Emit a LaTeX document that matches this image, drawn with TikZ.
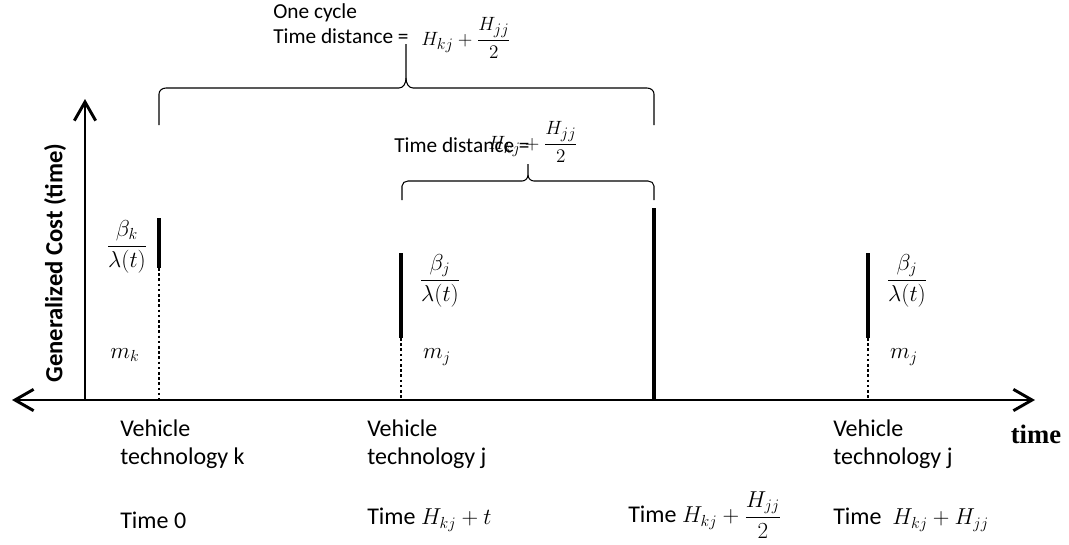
\documentclass[tikz,border=0pt]{standalone}
\usepackage{amsmath}
\usepackage{fontspec}
\setmainfont{Carlito}
\newfontfamily\timefont{Liberation Serif}
\DeclareMathSizes{16}{15.5}{11.5}{9}
\DeclareMathSizes{18}{17}{12.5}{10}
\usetikzlibrary{arrows.meta,positioning}
\tikzset{
  tip/.tip={Straight Barb[length=14pt,width=16pt,line width=2.2pt]},
  axisline/.style={line width=2.2pt},
  solidbar/.style={line width=2.3pt},
  tallbar/.style={line width=2.8pt},
  dotbar/.style={line width=1.9pt, dotted},
  bracepath/.style={line width=0.8pt},
  lbl/.style={inner sep=0pt, anchor=west},
  toptext/.style={font=\fontsize{16}{19}\selectfont},
  lowtext/.style={font=\fontsize{18}{21}\selectfont}
}
\begin{document}
\begin{tikzpicture}[x=0.75pt, y=-0.75pt, lowtext]
  \useasboundingbox (0,0) rectangle (1069,544);
  % axes
  \coordinate (xleft) at (12,400);
  \coordinate (xright) at (1035,400);
  \coordinate (origin) at (85,400);
  \coordinate (ytop) at (85,99);
  \draw[axisline, tip-tip] (xleft) -- (xright);
  \draw[axisline, -tip] (origin) -- (ytop);
  \node[rotate=90, font=\fontsize{18.5}{20}\selectfont\bfseries] (ylabel) at (55,263) {Generalized Cost (time)};
  \node[font=\fontsize{20}{22}\selectfont\timefont\bfseries] (xlabel) at (1036,434) {time};
  % vehicle k
  \coordinate (ktop) at (159,218);
  \coordinate (kmid) at (159,268);
  \coordinate (kbase) at (159,400);
  \draw[solidbar] (ktop) -- (kmid);
  \draw[dotbar] (kmid) -- (kbase);
  \node (kfrac) at (127,247) {$\dfrac{\beta_k}{\lambda(t)}$};
  \node (kmin) at (125,355) {$m_k$};
  % vehicle j, first
  \coordinate (jtop) at (401,253);
  \coordinate (jmid) at (401,338);
  \coordinate (jbase) at (401,400);
  \draw[solidbar] (jtop) -- (jmid);
  \draw[dotbar] (jmid) -- (jbase);
  \node (jfrac) at (440,281) {$\dfrac{\beta_j}{\lambda(t)}$};
  \node (jmin) at (437,357) {$m_j$};
  % half cycle
  \coordinate (htop) at (654,208);
  \coordinate (hbase) at (654,400);
  \draw[tallbar] (htop) -- (hbase);
  % vehicle j, second
  \coordinate (jjtop) at (868,253);
  \coordinate (jjmid) at (868,338);
  \coordinate (jjbase) at (868,400);
  \draw[solidbar] (jjtop) -- (jjmid);
  \draw[dotbar] (jjmid) -- (jjbase);
  \node (jjfrac) at (907,281) {$\dfrac{\beta_j}{\lambda(t)}$};
  \node (jjmin) at (904,357) {$m_j$};
  % one cycle brace
  \coordinate (bigtip) at (406,44);
  \draw[bracepath] (159,125) -- (159,94) to[out=90,in=180] (166,88) -- (399,88) to[out=0,in=-90] (406,78) -- (bigtip);
  \draw[bracepath] (406,78) to[out=-90,in=180] (413,88) -- (647,88) to[out=0,in=90] (654,94) -- (654,125);
  \node[lbl, toptext] (cycle) at (273,13) {One cycle};
  \node[lbl, toptext] (bigdist) at (273,36) {Time distance =};
  \node[lbl, toptext] (bigval) at (421,38) {$H_{kj}+\dfrac{H_{jj}}{2}$};
  % half cycle brace
  \coordinate (smalltip) at (528,164);
  \draw[bracepath] (402,200) -- (402,186) to[out=90,in=180] (408,181) -- (522,181) to[out=0,in=-90] (528,175) -- (smalltip);
  \draw[bracepath] (528,175) to[out=-90,in=180] (534,181) -- (648,181) to[out=0,in=90] (654,186) -- (654,200);
  \node[lbl, toptext] (smalldist) at (394,145) {Time distance =};
  \node[lbl, toptext] (smallval) at (488,142) {$H_{kj}+\dfrac{H_{jj}}{2}$};
  % labels under the axis
  \node[lbl, align=left] (vk) at (120,444) {Vehicle\\technology k};
  \node[lbl, align=left] (vj) at (367,444) {Vehicle\\technology j};
  \node[lbl, align=left] (vjj) at (833,444) {Vehicle\\technology j};
  \node[lbl] (t0) at (120,520) {Time 0};
  \node[lbl] (t1) at (367,520) {Time $H_{kj}+t$};
  \node[lbl] (t2) at (628,515) {Time $H_{kj}+\dfrac{H_{jj}}{2}$};
  \node[lbl] (t3) at (833,520) {Time\ \ $H_{kj}+H_{jj}$};
\end{tikzpicture}
\end{document}
